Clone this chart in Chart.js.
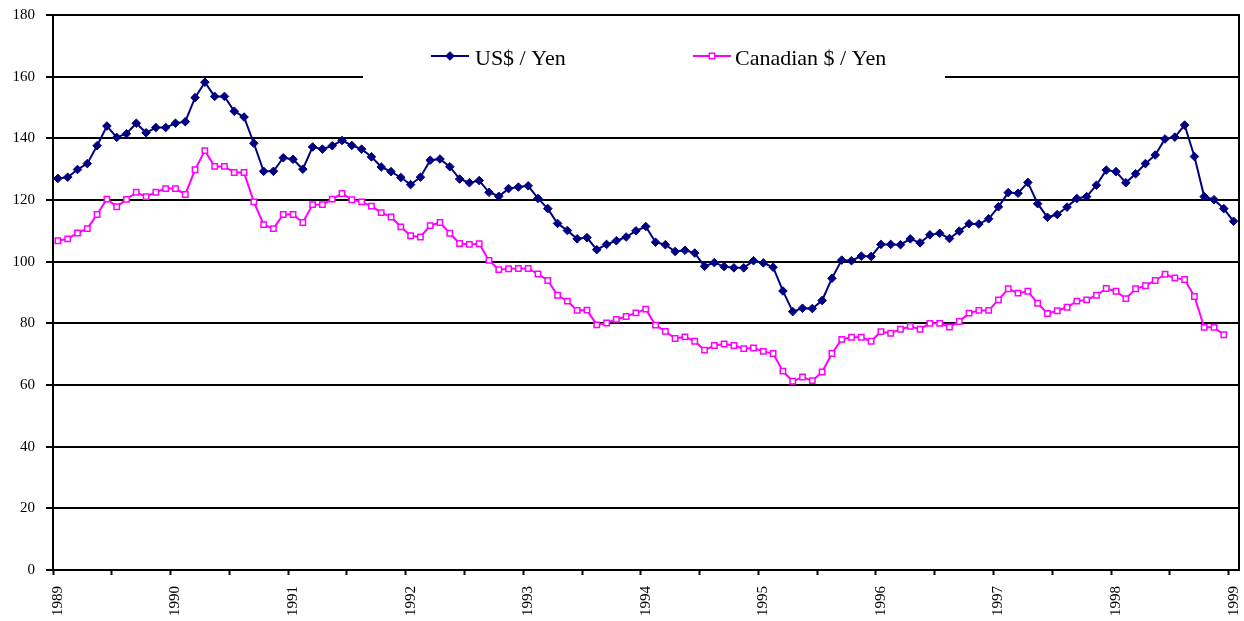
<!DOCTYPE html>
<html>
<head>
<meta charset="utf-8">
<title>US$ / Yen and Canadian $ / Yen, 1989-1999</title>
<script src="https://cdn.jsdelivr.net/npm/chart.js@4.4.1/dist/chart.umd.min.js"></script>
<style>
  html, body { margin: 0; padding: 0; background: #fff; }
  #wrap { position: relative; width: 1244px; height: 621px; }
</style>
</head>
<body>
<div id="wrap"><canvas id="fxChart"></canvas></div>
<script>
// Tick labels on the time axis (one per January)
const years = ['1989', '1990', '1991', '1992', '1993', '1994', '1995', '1996', '1997', '1998', '1999'];
const monthNames = ['Jan', 'Feb', 'Mar', 'Apr', 'May', 'Jun', 'Jul', 'Aug', 'Sep', 'Oct', 'Nov', 'Dec'];

// Monthly categories, Jan 1989 .. Jan 1999
const months = [];
years.slice(0, -1).forEach(y => monthNames.forEach(m => months.push(m + ' ' + y)));
months.push('Jan ' + years[years.length - 1]);

// Yen per US dollar, monthly
const usYen = [
    127.0, 127.4, 129.9, 131.8, 137.6, 144.0, 140.3, 141.5, 144.9, 141.8, 143.5, 143.5, // 1989
    144.9, 145.4, 153.2, 158.2, 153.6, 153.6, 148.8, 146.9, 138.4, 129.3, 129.3, 133.7, // 1990
    133.2, 130.0, 137.2, 136.5, 137.6, 139.3, 137.7, 136.5, 134.0, 130.7, 129.2, 127.3, // 1991
    125.0, 127.4, 132.9, 133.3, 130.8, 126.8, 125.6, 126.3, 122.5, 121.2, 123.7, 124.2, // 1992
    124.6, 120.5, 117.2, 112.4, 110.1, 107.4, 107.8, 103.9, 105.6, 106.8, 108.0, 110.0, // 1993
    111.4, 106.3, 105.5, 103.3, 103.7, 102.8, 98.5, 99.7, 98.4, 98.0, 98.0, 100.3,      // 1994
    99.6, 98.2, 90.5, 83.8, 84.9, 84.8, 87.4, 94.6, 100.5, 100.3, 101.8, 101.7,         // 1995
    105.6, 105.6, 105.5, 107.4, 106.1, 108.7, 109.2, 107.5, 109.9, 112.3, 112.2, 113.9, // 1996
    117.8, 122.4, 122.2, 125.7, 118.8, 114.4, 115.3, 117.7, 120.5, 121.1, 124.8, 129.7, // 1997
    129.2, 125.6, 128.5, 131.8, 134.6, 139.8, 140.4, 144.3, 134.1, 121.1, 120.1, 117.2, // 1998
    113.1                                                                              // 1999
];

// Yen per Canadian dollar, monthly (series stops one month earlier)
const cadYen = [
    106.8, 107.4, 109.3, 110.7, 115.3, 120.3, 117.8, 120.2, 122.5, 121.1, 122.5, 123.7, // 1989
    123.7, 121.8, 129.8, 136.0, 130.9, 130.9, 128.9, 128.9, 119.4, 112.0, 110.7, 115.3, // 1990
    115.3, 112.7, 118.5, 118.5, 120.3, 122.1, 120.1, 119.4, 118.0, 115.9, 114.5, 111.3, // 1991
    108.4, 108.0, 111.7, 112.7, 109.2, 105.9, 105.6, 105.8, 100.4, 97.4, 97.7, 97.8,    // 1992
    97.8, 96.0, 93.9, 89.1, 87.2, 84.2, 84.3, 79.5, 80.1, 81.3, 82.2, 83.4,             // 1993
    84.6, 79.4, 77.4, 75.1, 75.6, 74.2, 71.3, 72.8, 73.3, 72.8, 71.8, 72.0,             // 1994
    70.9, 70.2, 64.5, 61.2, 62.6, 61.4, 64.2, 70.2, 74.8, 75.5, 75.5, 74.2,             // 1995
    77.3, 76.8, 78.1, 79.0, 78.1, 80.0, 80.0, 78.8, 80.6, 83.3, 84.2, 84.2,             // 1996
    87.6, 91.2, 89.8, 90.4, 86.5, 83.2, 84.1, 85.2, 87.2, 87.6, 89.1, 91.3,             // 1997
    90.4, 88.0, 91.2, 92.2, 93.9, 95.9, 94.7, 94.2, 88.7, 78.7, 78.7, 76.3,             // 1998
    null                                                                               // 1999
];

const seriesNames = ['US$ / Yen', 'Canadian $ / Yen'];

// Value axis ticks
const Y_MIN = 0;
const Y_MAX = 180;
const Y_STEP = 20;

const SERIF = '"Liberation Serif", "Times New Roman", serif';

// Legend lives inside the plot, on a white patch over the 160 gridline
const legendBox = { left: 363, top: 28, right: 945, bottom: 86 };
const legendSlots = [
    { from: 431, to: 469, textX: 475 },
    { from: 693, to: 731, textX: 735 }
];
const LEGEND_LINE_Y = 56;
const LEGEND_TEXT_Y = 65;

const framePlugin = {
    id: 'frameAndLegend',
    afterDraw(chart) {
        const { ctx, chartArea } = chart;
        ctx.save();

        // right edge of the plot frame
        const rx = Math.round(chartArea.right);
        ctx.strokeStyle = '#000';
        ctx.lineWidth = 2;
        ctx.beginPath();
        ctx.moveTo(rx, chartArea.top - 1);
        ctx.lineTo(rx, chartArea.bottom + 1);
        ctx.stroke();

        // legend
        ctx.fillStyle = '#fff';
        ctx.fillRect(legendBox.left, legendBox.top,
            legendBox.right - legendBox.left, legendBox.bottom - legendBox.top);

        chart.data.datasets.forEach((ds, i) => {
            const slot = legendSlots[i];
            ctx.strokeStyle = ds.borderColor;
            ctx.lineWidth = ds.borderWidth;
            ctx.beginPath();
            ctx.moveTo(slot.from, LEGEND_LINE_Y);
            ctx.lineTo(slot.to, LEGEND_LINE_Y);
            ctx.stroke();

            ctx.fillStyle = ds.pointBackgroundColor;
            ctx.strokeStyle = ds.pointBorderColor;
            ctx.lineWidth = ds.pointBorderWidth;
            Chart.helpers.drawPoint(ctx, {
                pointStyle: ds.pointStyle,
                radius: ds.pointRadius,
                rotation: 0,
                borderWidth: ds.pointBorderWidth
            }, (slot.from + slot.to) / 2, LEGEND_LINE_Y);

            ctx.fillStyle = '#000';
            ctx.font = '22px ' + SERIF;
            ctx.textAlign = 'left';
            ctx.textBaseline = 'alphabetic';
            ctx.fillText(ds.label, slot.textX, LEGEND_TEXT_Y);
        });

        ctx.restore();
    }
};

function initChart() {
    const ctx = document.getElementById('fxChart').getContext('2d');
    new Chart(ctx, {
        type: 'line',
        data: {
            labels: months,
            datasets: [
                {
                    label: seriesNames[0],
                    data: usYen,
                    borderColor: '#000080',
                    borderWidth: 2,
                    pointStyle: 'rectRot',
                    pointRadius: 4.3,
                    pointBackgroundColor: '#000080',
                    pointBorderColor: '#000080',
                    pointBorderWidth: 1,
                    tension: 0
                },
                {
                    label: seriesNames[1],
                    data: cadYen,
                    borderColor: '#ff00ff',
                    borderWidth: 2,
                    pointStyle: 'rect',
                    pointRadius: 3.8,
                    pointBackgroundColor: '#ffffff',
                    pointBorderColor: '#ff00ff',
                    pointBorderWidth: 1.5,
                    tension: 0
                }
            ]
        },
        options: {
            responsive: true,
            maintainAspectRatio: false,
            animation: false,
            layout: {
                padding: { top: 15, right: 1, bottom: 0, left: 0 }
            },
            scales: {
                x: {
                    type: 'category',
                    offset: true,
                    afterFit(scale) {
                        scale.height = 51;
                        scale.paddingLeft = 0;
                        scale.paddingRight = 0;
                    },
                    border: { display: true, color: '#000', width: 2 },
                    grid: {
                        offset: true,
                        drawOnChartArea: false,
                        drawTicks: true,
                        tickLength: 5,
                        tickWidth: 2,
                        tickColor: c => (c.index % 6 === 0 ? '#000' : 'rgba(0,0,0,0)')
                    },
                    ticks: {
                        autoSkip: false,
                        minRotation: 90,
                        maxRotation: 90,
                        padding: 11,
                        color: '#000',
                        font: { family: SERIF, size: 15 },
                        callback: (val, idx) => (idx % 12 === 0 ? years[idx / 12] : '')
                    }
                },
                y: {
                    min: Y_MIN,
                    max: Y_MAX,
                    afterFit(scale) {
                        scale.width = 53;
                        scale.paddingTop = 0;
                        scale.paddingBottom = 0;
                    },
                    border: { display: true, color: '#000', width: 2 },
                    grid: {
                        color: '#000',
                        lineWidth: 2,
                        drawTicks: true,
                        tickLength: 7,
                        tickColor: '#000'
                    },
                    ticks: {
                        stepSize: Y_STEP,
                        padding: 11,
                        color: '#000',
                        font: { family: SERIF, size: 15 }
                    }
                }
            },
            plugins: {
                legend: { display: false },
                tooltip: { enabled: false }
            }
        },
        plugins: [framePlugin]
    });
}

window.addEventListener('load', initChart);
</script>
</body>
</html>
